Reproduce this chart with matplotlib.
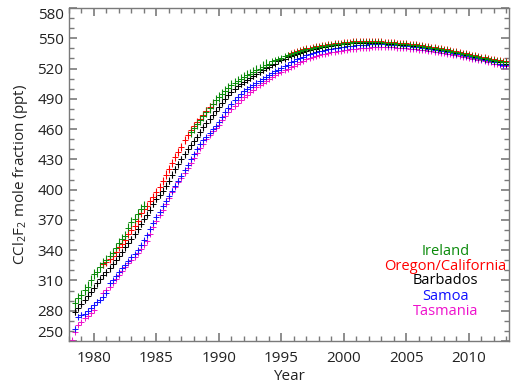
import numpy as np
import matplotlib
matplotlib.use("Agg")
import matplotlib.pyplot as plt

plt.rcParams["font.family"] = ["Open Sans", "DejaVu Sans"]
plt.rcParams["mathtext.default"] = "regular"

# Quarterly CCl2F2 mole fractions (ppt); each segment starts at the given decimal year
STEP = 0.25

ireland_starts = [1978.5, 1987.75]
ireland_values = [
    [288, 293, 296, 301, 304, 310, 316, 318, 323, 327, 330, 334, 337, 342,
     347, 351, 354, 362, 368, 371, 376, 381, 384],
    [457,
     461, 465, 469, 473,
     477, 481, 485, 489,
     492, 495, 498, 501,
     504, 506, 508, 510,
     512, 514, 515, 517,
     519, 520, 522, 524,
     525, 527, 528, 529,
     530, 532, 533, 534,
     535, 536, 537, 538,
     539, 539, 540, 541,
     541, 542, 542, 543,
     543, 544, 544, 544,
     545, 545, 545, 546,
     546, 546, 546, 546,
     546, 546, 546, 546,
     546, 545, 545, 545,
     545, 544, 544, 544,
     544, 543, 543, 543,
     542, 542, 541, 541,
     540, 540, 539, 539,
     538, 538, 537, 536,
     536, 535, 534, 534,
     533, 532, 532, 531,
     530, 530, 529, 528,
     528, 527, 527, 526,
     526],
]

oregon_starts = [1980.75, 1995.5]
oregon_values = [
    [326,
     328, 331, 334, 338,
     343, 346, 350, 356,
     360, 364, 369, 377,
     381, 384, 389, 393,
     398, 403, 409, 415,
     420, 426, 432, 437,
     442, 449, 454, 459,
     463, 467, 470, 474,
     478, 482, 485],
    [533, 535,
     536, 537, 538, 539,
     540, 540, 541, 542,
     542, 543, 543, 544,
     544, 545, 545, 545,
     546, 546, 546, 547,
     547, 547, 547, 547,
     547, 547, 547, 547,
     547, 546, 546, 546,
     546, 545, 545, 545,
     545, 544, 544, 544,
     543, 543, 542, 542,
     541, 541, 540, 540,
     539, 539, 538, 537,
     537, 536, 535, 535,
     534, 533, 533, 532,
     531, 531, 530, 529,
     529, 528, 528, 527,
     527],
]

barbados_starts = [1978.5]
barbados_values = [
    [279, 283,
     287, 291, 295, 299,
     303, 307, 311, 315,
     318, 322, 326, 330,
     334, 338, 343, 347,
     351, 356, 361, 366,
     371, 375, 380, 386,
     391, 395, 399, 404,
     409, 415, 420, 425,
     430, 435, 440, 444,
     448, 452, 457, 462,
     466, 470, 474, 478,
     482, 486, 490, 494,
     497, 500, 503, 505,
     507, 509, 511, 513,
     515, 517, 519, 521,
     522, 524, 525, 527,
     528, 529, 531, 532,
     533, 534, 535, 536,
     537, 538, 539, 539,
     540, 541, 541, 542,
     542, 543, 543, 544,
     544, 544, 545, 545,
     545, 545, 545, 545,
     545, 545, 545, 545,
     545, 545, 544, 544,
     544, 544, 543, 543,
     543, 543, 542, 542,
     542, 541, 541, 540,
     540, 539, 539, 538,
     538, 537, 537, 536,
     535, 535, 534, 533,
     533, 532, 531, 531,
     530, 529, 529, 528,
     527, 527, 526, 526,
     525],
]

samoa_starts = [1978.5]
samoa_values = [
    [262, 274,
     276, 277, 280, 283,
     286, 289, 291, 294,
     298, 307, 310, 314,
     318, 322, 325, 329,
     333, 336, 340, 345,
     350, 355, 361, 367,
     373, 378, 384, 389,
     394, 399, 404, 409,
     414, 419, 424, 430,
     435, 440, 445, 449,
     452, 456, 460, 463,
     467, 472, 477, 481,
     485, 489, 492, 495,
     498, 500, 502, 504,
     506, 508, 510, 512,
     514, 516, 518, 519,
     521, 523, 524, 526,
     527, 529, 530, 531,
     533, 534, 535, 536,
     537, 537, 538, 539,
     539, 540, 540, 541,
     541, 542, 542, 542,
     543, 543, 543, 543,
     544, 544, 544, 544,
     544, 544, 543, 543,
     543, 543, 543, 542,
     542, 542, 541, 541,
     541, 540, 540, 539,
     539, 538, 538, 537,
     537, 536, 536, 535,
     534, 534, 533, 532,
     532, 531, 530, 530,
     529, 528, 528, 527,
     526, 526, 525, 524,
     524],
]

tasmania_starts = [1978.25, 1980.75]
tasmania_values = [
    [251, 259, 266,
     269, 273, 275, 278,
     281],
    [298,
     301, 304, 307, 311,
     315, 319, 323, 327,
     330, 333, 337, 341,
     345, 349, 356, 363,
     369, 375, 380, 386,
     392, 398, 403, 408,
     412, 416, 421, 426,
     431, 436, 441, 445,
     450, 454, 458, 461,
     464, 469, 473, 477,
     480, 483, 486, 489,
     492, 494, 497, 499,
     502, 504, 506, 508,
     510, 512, 514, 516,
     517, 519, 520, 522,
     523, 525, 526, 527,
     529, 530, 531, 532,
     533, 534, 534, 535,
     536, 536, 537, 537,
     538, 538, 539, 539,
     539, 540, 540, 540,
     540, 541, 541, 541,
     541, 541, 541, 541,
     541, 540, 540, 540,
     540, 539, 539, 539,
     538, 538, 538, 537,
     537, 536, 536, 535,
     535, 534, 534, 533,
     533, 532, 531, 531,
     530, 529, 529, 528,
     528, 527, 526, 526,
     525, 525, 524, 523,
     523],
]

# 1-sigma uncertainty (ppt) before / after the 1994 network change
ireland_err = [5.0, 1.5]
oregon_err = [4.0, 1.5]
barbados_err = [3.5, 1.5]
samoa_err = [2.5, 1.5]
tasmania_err = [1.5, 1.2]
ERR_SWITCH_YEAR = 1994

stations = [
    ("Ireland", ireland_starts, ireland_values, ireland_err, "#0a8a0a"),
    ("Oregon/California", oregon_starts, oregon_values, oregon_err, "#ff0000"),
    ("Barbados", barbados_starts, barbados_values, barbados_err, "#000000"),
    ("Samoa", samoa_starts, samoa_values, samoa_err, "#1010ff"),
    ("Tasmania", tasmania_starts, tasmania_values, tasmania_err, "#ee11cc"),
]

fig = plt.figure(figsize=(5.19, 3.86), dpi=100)
ax = fig.add_axes([69 / 519, 45 / 386, 440 / 519, 333 / 386])

# southern stations first so the northern ones sit on top
for name, starts, segs, err, color in reversed(stations):
    for t0, vals in zip(starts, segs):
        v = np.asarray(vals, dtype=float)
        t = t0 + STEP * np.arange(len(v))
        e = np.where(t < ERR_SWITCH_YEAR, err[0], err[1])
        ax.errorbar(t, v, yerr=e, fmt="+", color=color, ms=4, mew=0.7,
                    elinewidth=0.8, capsize=0)

ax.set_xlim(1978, 2013.2)
ax.set_ylim(250, 580)
ax.set_xticks(np.arange(1980, 2011, 5))
ax.set_xticks(np.arange(1978, 2014, 1), minor=True)
ax.set_yticks(np.arange(250, 581, 30))
ax.set_yticks(np.arange(250, 581, 10), minor=True)

spine_color = "#7a7a7a"
for s in ax.spines.values():
    s.set_color(spine_color)
    s.set_linewidth(1.0)
ax.tick_params(which="both", direction="in", top=True, right=True,
               color=spine_color, labelcolor="#222222", labelsize=11)
ax.tick_params(which="major", length=6, width=1.2)
ax.tick_params(which="minor", length=3.5, width=1.0)
ax.tick_params(axis="x", which="major", pad=7)
ax.tick_params(axis="y", which="major", pad=4)

yticks = ax.yaxis.get_major_ticks()
yticks[0].label1.set_va("bottom")
yticks[-1].label1.set_va("top")

ax.set_xlabel("Year", fontsize=11, color="#222222", labelpad=2)
ax.set_ylabel(r"CCl$_2$F$_2$ mole fraction (ppt)", fontsize=11,
              color="#222222", labelpad=5)

label_y = [0.268, 0.223, 0.181, 0.135, 0.088]
for (name, _, _, _, color), yy in zip(stations, label_y):
    ax.text(0.856, yy, name, transform=ax.transAxes, ha="center",
            va="center", fontsize=10.5, color=color)

fig.savefig("out.png", dpi=100)
